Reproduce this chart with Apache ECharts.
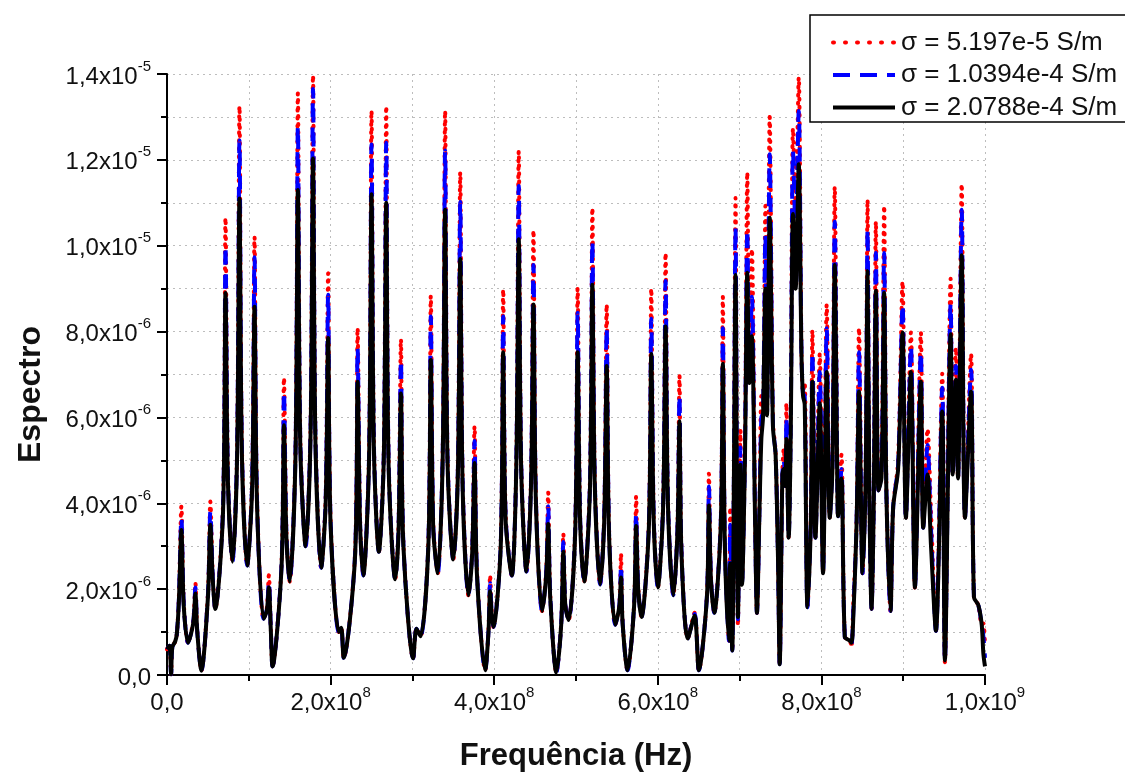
<!DOCTYPE html>
<html><head><meta charset="utf-8">
<script src="https://cdn.jsdelivr.net/npm/echarts@6/dist/echarts.min.js"></script>
<style>html,body{margin:0;padding:0;background:#fff;overflow:hidden}#c{width:1125px;height:775px}</style>
</head><body><div id="c"></div>
<script>
// Frequency in MHz (axis shown as x10^8 Hz), spectrum in units of 1e-6
const freq = [0,3,5,6.5,10,12,14.5,17.6,20.5,25.7,32,34.7,37,42,50,53,56,59,68.5,71.5,74.5,80,85.6,88.6,91.6,98,104,107,110,118,122,124.5,127,129,140,143,146,150,157,160,163,169.5,175.5,178.5,181.5,188.5,194,197,200,210,213,216,230,233,236,240,247,250,253,259,265,268,271,279,283,286,289,301,305,310,319.5,322.5,325.5,331,337,340,343,350,355.5,358.5,361.5,368.5,373,376,379,389,393,395,397,399,408,411,414,421.5,427,430,433,439.5,445,448,451,458.5,463.5,466,468.5,476,482,484.5,487,491,499,502,505,510,517,520,523,529.5,534.5,537.5,540.5,548,553,555,557,563,571,573.5,576,580,589,592,595,600,606.5,609.5,612.5,619,624,626.5,629,636.7,645,650.2,660,662.5,665,669,677,679.5,682,687,688.5,691,693,695,698,701,703,706.5,709.4,712,715,719,721.2,724.5,726.6,728.6,731.5,733.5,736.8,740.8,744,747,749,752.3,754,756,757.2,760,762.5,765.3,768.5,772.3,775.6,777.5,779.6,783,787,789,792.7,798,802,806.5,810.2,813.5,816.3,819.5,820.4,824.5,828.6,834.7,836.8,838.7,843,846,850.3,854,856.4,858.5,861.3,864,866.6,869.8,873.5,876.7,879.5,884.5,887.7,893.8,899.2,903.3,909.4,914.3,921.6,924.5,929.8,934,940,947.7,951,958,960.5,964.5,967,971.5,975.5,982.9,986.5,991.8,996,998,1000];
const sigmaLow = [0.6,0.68,0.02,0.65,0.78,0.95,1.8,3.93,1.7,0.75,1.25,2.14,1.05,0.1,1.9,4.04,2.3,1.54,4.0,10.65,4.7,2.64,5.2,13.25,5.3,2.55,4.5,10.2,4.2,1.31,1.55,2.32,1.05,0.2,2.6,6.92,3.35,2.18,5.2,13.55,5.5,3.0,5.8,13.97,5.6,2.5,4.2,9.36,3.65,1.0,1.1,0.4,2.9,8.08,3.65,2.32,5.2,13.14,5.4,2.87,5.2,13.25,5.0,2.23,3.45,7.82,3.1,0.39,1.08,0.9,3.1,8.83,3.55,2.37,5.2,13.14,5.1,2.69,4.8,11.71,4.5,1.86,2.9,5.79,2.4,0.11,1.05,2.32,1.45,1.12,3.1,8.98,3.75,2.32,5.0,12.2,5.0,2.41,4.6,10.36,4.2,1.49,2.4,4.25,1.9,0.06,1.25,3.29,1.65,1.28,3.45,9.01,3.75,2.18,4.5,10.88,4.6,2.11,3.75,8.63,3.35,1.17,1.65,2.83,1.25,0.11,1.65,4.16,2.1,1.35,3.55,9.0,3.75,2.04,4.05,9.83,4.05,1.86,3.45,6.97,2.9,0.85,1.45,0.11,1.85,4.69,2.3,1.45,3.65,8.81,3.1,0.8,3.9,0.57,4.7,11.11,1.15,5.7,2.2,5.2,11.71,7.2,9.92,3.6,1.45,4.1,6.5,6.2,10.93,6.2,13.0,5.9,5.2,2.65,0.25,4.7,5.27,4.4,6.33,3.2,6.0,12.73,11.0,13.92,7.6,6.6,6.8,1.58,3.6,8.03,3.2,7.48,2.37,8.63,3.66,5.0,11.37,4.6,3.7,5.13,0.89,0.8,0.65,1.54,3.6,8.08,2.37,4.6,11.07,4.6,1.54,4.1,10.56,4.3,4.8,10.93,4.3,1.49,3.9,5.0,9.16,3.66,7.98,2.04,7.98,3.43,5.73,3.8,1.03,7.02,0.3,9.23,4.67,7.62,4.58,11.44,3.66,7.48,1.81,1.63,1.17,1.2,0.7];
const sigmaMid = [0.6,0.68,0.02,0.65,0.78,0.95,1.75,3.66,1.65,0.75,1.22,2.04,1.02,0.1,1.85,3.8,2.25,1.54,3.9,10.0,4.6,2.64,5.1,12.45,5.2,2.55,4.4,9.73,4.1,1.31,1.52,2.18,1.02,0.2,2.55,6.6,3.27,2.18,5.1,12.77,5.4,3.0,5.7,13.65,5.5,2.5,4.1,8.86,3.57,1.0,1.1,0.4,2.85,7.6,3.57,2.32,5.1,12.36,5.3,2.87,5.1,12.4,4.9,2.23,3.37,7.34,3.05,0.39,1.08,0.9,3.05,8.35,3.47,2.37,5.1,12.22,5.0,2.69,4.7,11.02,4.4,1.86,2.85,5.45,2.35,0.11,1.02,2.14,1.42,1.12,3.05,8.35,3.67,2.32,4.9,11.39,4.9,2.41,4.5,9.55,4.1,1.49,2.35,3.93,1.85,0.06,1.22,3.1,1.62,1.28,3.37,8.44,3.67,2.18,4.4,10.1,4.5,2.11,3.67,8.08,3.27,1.17,1.62,2.55,1.22,0.11,1.62,3.75,2.05,1.35,3.47,8.3,3.67,2.04,3.97,9.18,3.97,1.86,3.37,6.51,2.85,0.85,1.42,0.11,1.82,4.39,2.25,1.45,3.57,8.08,3.05,0.8,3.5,0.57,4.6,10.42,1.3,5.3,2.15,5.1,10.38,7.0,8.81,3.55,1.45,4.05,6.0,6.1,10.24,6.1,12.13,5.8,5.15,2.65,0.25,4.68,5.0,4.4,6.0,3.2,5.8,12.2,10.3,13.14,7.55,6.55,6.5,1.58,3.55,7.52,3.2,7.06,2.37,8.08,3.66,4.9,10.56,4.5,3.7,4.8,0.89,0.8,0.72,1.35,3.55,7.52,2.37,4.5,10.38,4.5,1.54,4.05,9.83,4.3,4.7,9.83,4.25,1.49,3.9,4.9,8.63,3.66,7.66,2.04,7.52,3.43,5.36,3.4,1.03,6.69,0.34,8.63,4.67,7.2,4.58,10.84,3.66,7.11,1.81,1.63,1.17,0.9,0.4];
const sigmaHigh = [0.6,0.68,0.02,0.65,0.78,0.95,1.7,3.38,1.6,0.75,1.2,1.9,1.0,0.1,1.8,3.5,2.2,1.54,3.8,8.9,4.5,2.64,5.0,11.1,5.1,2.55,4.3,8.58,4.0,1.31,1.5,2.04,1.0,0.2,2.5,5.82,3.2,2.18,5.0,11.3,5.3,3.0,5.6,12.03,5.4,2.5,4.0,7.85,3.5,1.0,1.1,0.4,2.8,6.83,3.5,2.32,5.0,11.2,5.2,2.87,5.0,11.0,4.8,2.23,3.3,6.56,3.0,0.39,1.08,0.9,3.0,7.34,3.4,2.37,5.0,10.84,4.9,2.69,4.6,9.69,4.3,1.86,2.8,4.94,2.3,0.11,1.0,1.95,1.4,1.12,3.0,7.52,3.6,2.32,4.8,10.15,4.8,2.41,4.4,8.63,4.0,1.49,2.3,3.52,1.8,0.06,1.2,2.87,1.6,1.28,3.3,7.52,3.6,2.18,4.3,9.09,4.4,2.11,3.6,7.2,3.2,1.17,1.6,2.27,1.2,0.11,1.6,3.47,2.0,1.35,3.4,7.48,3.6,2.04,3.9,8.12,3.9,1.86,3.3,5.91,2.8,0.85,1.38,0.11,1.8,3.95,2.2,1.45,3.5,7.25,3.0,0.8,2.6,0.57,4.5,9.32,1.35,4.9,2.1,5.0,9.37,6.8,7.89,3.5,1.45,4.0,5.5,6.0,9.0,6.05,10.65,5.77,5.13,2.65,0.25,4.67,4.8,4.4,5.5,3.2,5.6,10.74,9.0,11.9,7.5,6.51,6.3,1.58,3.5,6.83,3.2,6.33,2.37,7.06,3.66,4.8,9.55,4.4,3.7,4.58,0.89,0.8,0.75,1.2,3.5,6.6,2.37,4.5,9.41,4.5,1.54,4.0,8.95,4.3,4.6,8.9,4.2,1.49,3.9,4.8,7.98,3.66,7.06,2.04,6.83,3.43,4.67,3.0,1.03,6.14,0.34,7.94,4.67,6.88,4.58,9.78,3.66,6.6,1.81,1.63,1.17,0.5,0.2];
const seriesNames = ['σ = 5.197e-5 S/m', 'σ = 1.0394e-4 S/m', 'σ = 2.0788e-4 S/m'];
const xTicks = {0:['0,0',''],200:['2,0x10','8'],400:['4,0x10','8'],600:['6,0x10','8'],800:['8,0x10','8'],1000:['1,0x10','9']};
const yTicks = {0:['0,0',''],2:['2,0x10','-6'],4:['4,0x10','-6'],6:['6,0x10','-6'],8:['8,0x10','-6'],10:['1,0x10','-5'],12:['1,2x10','-5'],14:['1,4x10','-5']};

const pair = (xs, ys) => xs.map((x, i) => [x, ys[i]]);
const FONT = 'Liberation Sans, Arial, sans-serif';
const rich = {
  m: {fontSize: 24, fontFamily: FONT, color: '#111', verticalAlign: 'bottom', lineHeight: 30},
  s: {fontSize: 15, fontFamily: FONT, color: '#111', verticalAlign: 'top', lineHeight: 30}
};
const fmt = (tbl) => (v) => { const t = tbl[Math.round(v)]; if (!t) return ''; return t[1] ? '{m|' + t[0] + '}{s|' + t[1] + '}' : '{m|' + t[0] + '}'; };
const gridLine = {show: true, lineStyle: {color: '#bdbdbd', type: [2, 4], width: 1}};

// legend key styles (drawn as graphic samples next to legend texts)
const LEG_TOP = 15, LEG_PAD = 14, LEG_ROW = 32.5, LEG_LH = 27;
const keyStyles = [
  {stroke: '#ff0000', lineWidth: 4, lineDash: [1, 11], lineCap: 'round'},
  {stroke: '#0000ff', lineWidth: 4, lineDash: [17, 10]},
  {stroke: '#000000', lineWidth: 4}
];
const keyGraphics = keyStyles.map((st, i) => ({
  type: 'line', z: 100,
  shape: {x1: 833, y1: LEG_TOP + LEG_PAD + LEG_LH / 2 + i * LEG_ROW, x2: 895, y2: LEG_TOP + LEG_PAD + LEG_LH / 2 + i * LEG_ROW},
  style: st
}));

const chart = echarts.init(document.getElementById('c'), null, {renderer: 'canvas', width: 1125, height: 775});
chart.setOption({
  animation: false,
  backgroundColor: '#fff',
  grid: {left: 167, right: 140, top: 74, bottom: 100, containLabel: false, outerBoundsMode: 'none'},
  legend: {
    left: 810, top: LEG_TOP, orient: 'vertical', z: 50,
    padding: [LEG_PAD, 10, 3, 23], itemGap: LEG_ROW - LEG_LH, itemWidth: 62, itemHeight: 14,
    borderWidth: 0, backgroundColor: 'transparent',
    itemStyle: {opacity: 0},
    lineStyle: {opacity: 0},
    textStyle: {fontSize: 26, fontFamily: FONT, color: '#111', lineHeight: LEG_LH},
    data: seriesNames
  },
  graphic: [
    {type: 'rect', z: 40, shape: {x: 810, y: 15, width: 340, height: 107},
     style: {fill: '#fff', stroke: '#000', lineWidth: 1.5}},
    ...keyGraphics
  ],
  xAxis: {
    type: 'value', min: 0, max: 1000, interval: 200,
    name: 'Frequência (Hz)', nameLocation: 'middle', nameGap: 66,
    nameTextStyle: {fontSize: 31, fontWeight: 'bold', fontFamily: FONT, color: '#111'},
    axisLine: {show: true, onZero: false, lineStyle: {color: '#000', width: 2}},
    axisTick: {show: true, inside: false, length: 10, lineStyle: {color: '#000', width: 2}},
    minorTick: {show: true, splitNumber: 2, length: 6, lineStyle: {color: '#000', width: 2}},
    splitLine: gridLine, minorSplitLine: gridLine,
    axisLabel: {margin: 10, formatter: fmt(xTicks), rich: rich}
  },
  yAxis: {
    type: 'value', min: 0, max: 14, interval: 2,
    name: 'Espectro', nameLocation: 'middle', nameGap: 120,
    nameTextStyle: {fontSize: 32, fontWeight: 'bold', fontFamily: FONT, color: '#111', padding: [0, 40, 0, 0]},
    axisLine: {show: true, onZero: false, lineStyle: {color: '#000', width: 2}},
    axisTick: {show: true, inside: false, length: 10, lineStyle: {color: '#000', width: 2}},
    minorTick: {show: true, splitNumber: 2, length: 6, lineStyle: {color: '#000', width: 2}},
    splitLine: gridLine, minorSplitLine: gridLine,
    axisLabel: {margin: 16, formatter: fmt(yTicks), rich: rich}
  },
  series: [
    {name: seriesNames[0], type: 'line', data: pair(freq, sigmaLow), showSymbol: false, symbol: 'none', smooth: 0.3,
     lineStyle: {color: '#ff0000', width: 4, type: [1, 7], cap: 'round'}, itemStyle: {color: '#ff0000'}},
    {name: seriesNames[1], type: 'line', data: pair(freq, sigmaMid), showSymbol: false, symbol: 'none', smooth: 0.3,
     lineStyle: {color: '#0000ff', width: 4, type: [14, 10]}, itemStyle: {color: '#0000ff'}},
    {name: seriesNames[2], type: 'line', data: pair(freq, sigmaHigh), showSymbol: false, symbol: 'none', smooth: 0.3,
     lineStyle: {color: '#000', width: 4, type: 'solid'}, itemStyle: {color: '#000'}}
  ]
});
</script></body></html>
